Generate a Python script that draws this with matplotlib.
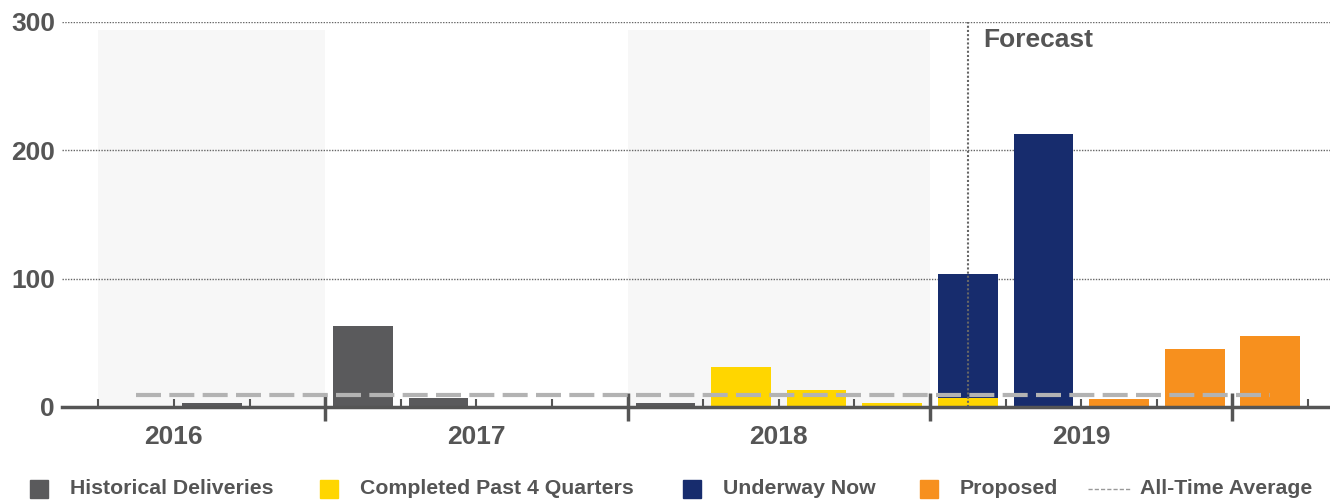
import numpy as np
import matplotlib
matplotlib.use('Agg')
import matplotlib.pyplot as plt
import matplotlib.patches as mpatches
from matplotlib.lines import Line2D

plt.rcParams['font.family'] = ['Liberation Sans', 'DejaVu Sans']
plt.rcParams['font.weight'] = 'bold'

# quarters shown, 2016 Q2 .. 2020 Q1
quarters = ['2016Q2', '2016Q3', '2016Q4',
            '2017Q1', '2017Q2', '2017Q3', '2017Q4',
            '2018Q1', '2018Q2', '2018Q3', '2018Q4',
            '2019Q1', '2019Q2', '2019Q3', '2019Q4',
            '2020Q1']
historical = [0, 3, 0, 63, 7, 0, 0, 3, 0, 0, 0, 0, 0, 0, 0, 0]
completed = [0, 0, 0, 0, 0, 0, 0, 0, 31, 13, 3, 7, 0, 0, 0, 0]
underway = [0, 0, 0, 0, 0, 0, 0, 0, 0, 0, 0, 97, 213, 0, 0, 0]
proposed = [0, 0, 0, 0, 0, 0, 0, 0, 0, 0, 0, 0, 0, 6, 45, 55]
all_time_avg = 9
years = ['2016', '2017', '2018', '2019']
shaded_years = ['2016', '2018']
forecast_start = '2019Q1'
yticks = [0, 100, 200, 300]

c_hist = '#5a5a5c'
c_comp = '#ffd600'
c_under = '#172c6d'
c_prop = '#f7901e'
c_avg = '#b3b3b3'
c_text = '#555555'

fig = plt.figure(figsize=(13.3, 5), dpi=100)
ax = fig.add_axes([62 / 1330, 93 / 500, 1 - 62 / 1330, 385 / 500])

x = np.arange(len(quarters))
w = 0.79
h = np.array(historical)
c = np.array(completed)
u = np.array(underway)
p = np.array(proposed)
ax.bar(x, h, w, color=c_hist, zorder=2)
ax.bar(x, c, w, bottom=h, color=c_comp, zorder=2)
ax.bar(x, u, w, bottom=h + c, color=c_under, zorder=2)
ax.bar(x, p, w, bottom=h + c + u, color=c_prop, zorder=2)

# all-time average
ax.plot([x[0], x[-1]], [all_time_avg, all_time_avg], color=c_avg, lw=3,
        dashes=(6, 2), zorder=3)


def q1_index(y):
    return quarters.index(y + 'Q2') - 1


# shaded years (faint)
for yr in shaded_years:
    s = q1_index(yr)
    ax.axvspan(max(s - 0.5, -0.5), s + 3.5, ymax=0.98,
               color='#f7f7f7', zorder=0, lw=0)

# grid
for t in yticks[1:]:
    ax.axhline(t, color='#666666', lw=1, ls=(0, (1, 1)), zorder=1)

# forecast marker
fi = quarters.index(forecast_start)
ax.axvline(fi, ymin=0, ymax=1, color='#666666', lw=1.5, ls=(0, (1, 1)), zorder=4)
ax.text(fi + 0.2, 286, 'Forecast', fontsize=19, color=c_text,
        fontweight='bold', va='center', ha='left')

ax.set_xlim(-0.98, 15.79)
ax.set_ylim(0, 300)

for sp in ['top', 'right', 'left']:
    ax.spines[sp].set_visible(False)
ax.spines['bottom'].set_color(c_text)
ax.spines['bottom'].set_linewidth(2.5)
ax.spines['bottom'].set_zorder(5)

ax.set_yticks(yticks)
ax.set_yticklabels([str(t) for t in yticks], fontsize=19, color=c_text,
                   fontweight='bold')
ax.tick_params(axis='y', length=0, pad=5)

boundaries = np.arange(-0.5, len(quarters) + 0.5, 1.0)
year_bounds = [q1_index(yr) - 0.5 for yr in years[1:]] + [q1_index(years[-1]) + 3.5]
ax.set_xticks(year_bounds)
ax.set_xticklabels([])
ax.set_xticks([b for b in boundaries if b not in year_bounds], minor=True)
ax.tick_params(axis='x', which='major', direction='inout', length=20,
               width=2.5, color=c_text)
ax.tick_params(axis='x', which='minor', direction='in', length=6,
               width=1.5, color=c_text)

trans = ax.get_xaxis_transform()
for yr in years:
    ax.text(q1_index(yr) + 1.5, -0.078, yr, transform=trans, ha='center',
            va='center', fontsize=19, color=c_text, fontweight='bold')

# legend
ly = 11 / 500
items = [(30, 70, c_hist, 'Historical Deliveries'),
         (320, 360, c_comp, 'Completed Past 4 Quarters'),
         (683, 723, c_under, 'Underway Now'),
         (920, 960, c_prop, 'Proposed')]
for sx, tx, col, lab in items:
    fig.add_artist(mpatches.Rectangle((sx / 1330, ly - 9 / 500), 18 / 1330, 18 / 500,
                                      transform=fig.transFigure, color=col))
    fig.text(tx / 1330, ly, lab, fontsize=15.3, color=c_text, fontweight='bold',
             va='center', ha='left')
fig.add_artist(Line2D([1088 / 1330, 1130 / 1330], [ly, ly], transform=fig.transFigure,
                      color='#999999', lw=1, ls=(0, (3, 1.5))))
fig.text(1140 / 1330, ly, 'All-Time Average', fontsize=15.3, color=c_text,
         fontweight='bold', va='center', ha='left')

fig.savefig('out.png', dpi=100)
